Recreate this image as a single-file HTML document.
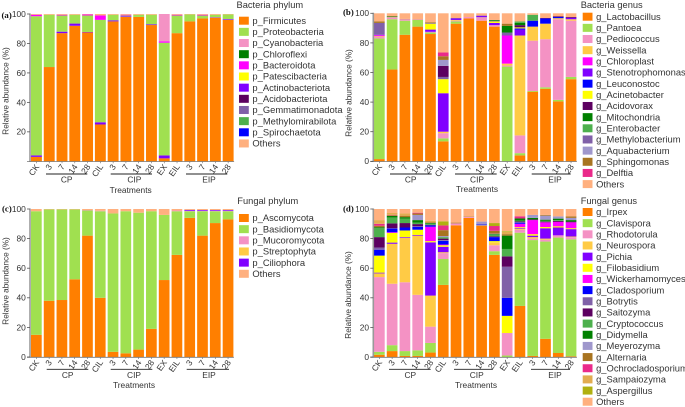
<!DOCTYPE html>
<html>
<head>
<meta charset="utf-8">
<style>
html,body{margin:0;padding:0;background:#fff;width:685px;height:407px;overflow:hidden}
svg{display:block}
text{font-family:"Liberation Sans",sans-serif;fill:#333}
.panel{font-family:"Liberation Serif",serif;font-weight:bold;font-size:8.8px;fill:#111}
</style>
</head>
<body>
<svg id="chart" width="685" height="407" viewBox="0 0 685 407" xmlns="http://www.w3.org/2000/svg"></svg>
<script>
const categories = ['CK','3','7','14','28','CIL','3','7','14','28','EX','EIL','3','7','14','28'];
const yTicksAll = [0,20,40,60,80,100];
const yTicksNoZero = [20,40,60,80,100];
const groupLabels = ['CP','CIP','EIP'];

const palette = {
  orange:'#ff7f00', green:'#a0e050', pink:'#f492c4', gold:'#ffcb45', magenta:'#ff00ff',
  purple:'#8000ff', blue:'#0000ff', yellow:'#ffff00', darkPurple:'#5c0060', darkGreen:'#008000',
  midGreen:'#4db04d', violet:'#8060a8', lav:'#9f97cc', brown:'#a87420', rose:'#ea2a8a',
  sand:'#e2ac50', olive:'#b0b010', peach:'#ffb07f'
};

// Panel (a) values
const aFirmicutes = [3,64,87,92,87.5,25,95,98,98,92.5,2,87,95,97,97.5,96];
const aActinobacteriota = [1,0,1,1.5,.3,1.5,.7,.5,0,.5,2,0,0,0,.3,.5];
const aProteobacteria = [94.5,35.5,11,6,11.2,69.5,3.8,.5,1.5,6.5,76.5,12,4.7,2,1.7,3.2];
const aBacteroidota = [1,0,.5,0,.7,3,0,.5,0,0,1,.5,0,.5,0,0];
const aCyanobacteria = [0,0,0,0,0,0,0,0,0,0,18.5,0,0,0,0,0];
const aOthers = [.5,.5,.5,.5,.3,1,.5,.5,.5,.5,0,.5,.3,.5,.5,.3];

// Panel (b) values
const bLactobacillus = [1.5,62,85.5,91,86,13.5,93,96.5,95,91,0,4,47,49,40.5,55.5];
const bPantoea = [81.5,34,9.5,4.5,1,2,1.5,0,0,0,64,1.5,.5,1,1,1.5];
const bPediococcus = [1,1,1,.3,.5,3.5,.5,1,2,1,.7,12,34,32.5,54.5,38];
const bWeissella = [.5,.3,0,0,0,1,.5,0,.3,0,1.3,67.5,9.5,10.5,.7,1];
const bChloroplast = [.7,0,0,0,0,0,0,0,0,0,19,0,0,0,0,0];
const bStenotrophomonas = [.3,0,0,0,1.5,26,1,0,1,1.5,0,4,0,0,0,1];
const bLeuconostoc = [0,0,0,0,0,0,0,0,0,0,0,.8,4,3.5,.8,0];
const bAcinetobacter = [0,0,0,0,4,9.5,0,0,0,1,0,.7,0,0,0,0];
const bMethylobacterium = [8,.2,0,0,.5,1.5,.3,0,.2,.5,2,0,0,0,0,0];
const bAcidovorax = [0,0,0,0,0,7.5,0,0,0,0,0,1.5,0,.3,.5,.5];
const bMitochondria = [0,.3,0,0,0,0,0,0,0,.5,4.5,1.5,0,0,0,0];
const bEnterobacter = [0,0,0,0,0,0,0,0,0,0,0,1,4,0,0,0];
const bAquabacterium = [0,0,0,0,0,4,0,0,0,0,0,0,0,0,0,0];
const bSphingomonas = [1,.3,.2,.2,.5,2.5,0,0,0,0,1.5,0,0,0,0,0];
const bDelftia = [0,0,0,0,0,2.5,0,0,0,0,0,0,0,0,0,0];
const bOthers = [5.5,1.9,3.8,4,6,26.5,3.2,2.5,1.5,4.5,7,5.5,1,3.2,2,2.5];

// Panel (c) values
const cAscomycota = [15,38,38.5,52.5,82,40,3.5,2.5,5,19,52,69,94,82,90.5,93];
const cBasidiomycota = [83.5,61.7,61.2,47.2,17,58.5,93.5,96,92.5,79.5,44,29.5,4.5,16.5,8,5.5];
const cMucoromycota = [0,0,0,0,.3,.3,0,0,0,0,0,.5,.3,.3,.3,.3];
const cCiliophora = [0,0,0,0,0,0,0,0,0,0,0,0,.6,.5,.5,.5];
const cOthers = [1.5,.3,.3,.3,.7,1.2,3,1.5,2.5,1.5,4,1,.6,.7,.7,.7];

// Panel (d) values
const dIrpex = [1.5,4,.7,.7,3,48.7,89,94,88.7,69,0,34.5,.7,12.3,2.7,.5];
const dClavispora = [2,4,3.3,3.8,6.5,17.5,0,0,0,2.5,1,49.5,78.3,65.7,78,79];
const dRhodotorula = [50.5,41.5,46.5,37.5,11,4,1.3,.7,0,4,15.2,2,1,1.3,1.5,1.5];
const dNeurospora = [2.5,27,30,40,21,.6,0,0,.3,2,0,.5,1,.7,0,.4];
const dPichia = [.5,.8,.5,.5,36,3.7,0,0,0,0,0,.5,1,7,5.3,5];
const dFilobasidium = [11.5,6.5,4.5,3.5,.8,1,0,0,0,.8,11.6,.7,1,.8,.8,.6];
const dWickerhamomyces = [0,.5,0,0,9.7,.5,0,0,0,0,0,2.3,9.5,3.2,3,4];
const dCladosporium = [4,2.5,2,2,1,2.5,0,0,.5,2.7,12.2,.8,0,0,0,0];
const dBotrytis = [1.5,.3,0,.3,0,.5,0,0,0,0,21,.3,0,0,0,0];
const dSaitozyma = [7,3.2,3,1.5,.3,1,0,0,0,.5,7,.5,.5,.5,.7,.5];
const dCryptococcus = [6,4,3,1,.7,1,0,0,0,1,5,.5,0,.5,.5,0];
const dDidymella = [.7,1,1,1.7,.5,0,0,0,0,.5,9,1.5,1,.8,1,1];
const dMeyerozyma = [0,0,0,3.5,0,.7,0,0,2,.3,0,0,2,2.7,1.5,1.5];
const dAlternaria = [1,.5,1,1,.5,4,.5,.3,0,2,1,0,0,.5,0,1];
const dOchrocladosporium = [1.3,.3,0,.5,0,3.2,0,0,0,3.2,0,1.5,0,0,0,0];
const dSampaiozyma = [2.5,1.2,1.5,0,1,0,0,0,0,0,1.5,0,0,0,0,0];
const dAspergillus = [0,0,0,0,0,2.8,0,0,0,2,.5,0,0,0,0,0];
const dOthers = [7.5,2.7,3,2.5,8,8.3,9.2,5,8.5,9.5,15,4.9,4,4,5,5];

const legendA = [['p_Firmicutes','orange'],['p_Proteobacteria','green'],['p_Cyanobacteria','pink'],['p_Chloroflexi','darkGreen'],['p_Bacteroidota','magenta'],['p_Patescibacteria','yellow'],['p_Actinobacteriota','purple'],['p_Acidobacteriota','darkPurple'],['p_Gemmatimonadota','violet'],['p_Methylomirabilota','midGreen'],['p_Spirochaetota','blue'],['Others','peach']];
const legendB = [['g_Lactobacillus','orange'],['g_Pantoea','green'],['g_Pediococcus','pink'],['g_Weissella','gold'],['g_Chloroplast','magenta'],['g_Stenotrophomonas','purple'],['g_Leuconostoc','blue'],['g_Acinetobacter','yellow'],['g_Acidovorax','darkPurple'],['g_Mitochondria','darkGreen'],['g_Enterobacter','midGreen'],['g_Methylobacterium','violet'],['g_Aquabacterium','lav'],['g_Sphingomonas','brown'],['g_Delftia','rose'],['Others','peach']];
const legendC = [['p_Ascomycota','orange'],['p_Basidiomycota','green'],['p_Mucoromycota','pink'],['p_Streptophyta','gold'],['p_Ciliophora','purple'],['Others','peach']];
const legendD = [['g_Irpex','orange'],['g_Clavispora','green'],['g_Rhodotorula','pink'],['g_Neurospora','gold'],['g_Pichia','purple'],['g_Filobasidium','yellow'],['g_Wickerhamomyces','magenta'],['g_Cladosporium','blue'],['g_Botrytis','violet'],['g_Saitozyma','darkPurple'],['g_Cryptococcus','midGreen'],['g_Didymella','darkGreen'],['g_Meyerozyma','lav'],['g_Alternaria','brown'],['g_Ochrocladosporium','rose'],['g_Sampaiozyma','sand'],['g_Aspergillus','olive'],['Others','peach']];

const svg = document.getElementById('chart');
const NS = 'http://www.w3.org/2000/svg';
function mk(parent, tag, attrs, txt){
  const el = document.createElementNS(NS, tag);
  for (const k in attrs) el.setAttribute(k, attrs[k]);
  if (txt !== undefined) el.textContent = txt;
  parent.appendChild(el);
  return el;
}
function slug(s){ return s.toLowerCase().replace(/[^a-z0-9]+/g,'-').replace(/^-|-$/g,''); }

function drawPanel(p){
  const g = mk(svg,'g',{});
  
  
  const yScale = v => p.y0 + (p.y100 - p.y0) * v / 100;
  const xScale = i => p.x0 + p.step * i;

  categories.forEach((cat, i) => {
    let cum = 0;
    p.stack.forEach(s => {
      const v = s[1][i];
      if (v > 0) {
        const top = yScale(cum + v), bot = yScale(cum);
        const r = mk(g,'rect',{x:xScale(i).toFixed(2), y:top.toFixed(2), width:p.barW, height:(bot-top).toFixed(2), fill:palette[s[0]]});
        
        
      }
      cum += v;
    });
    const t = mk(g,'text',{'text-anchor':'end','font-size':8.4,transform:'translate('+(xScale(i)+p.barW/2+3.2).toFixed(2)+','+(p.y0+5.5)+') rotate(-55)'},cat);
    
    
    const m = mk(g,'line',{x1:(xScale(i)+p.barW/2).toFixed(2),x2:(xScale(i)+p.barW/2).toFixed(2),y1:p.y0,y2:p.y0+2,stroke:'#666','stroke-width':0.6});
    
    
  });

  const yAxis = mk(g,'line',{x1:p.axisX,x2:p.axisX,y1:p.y100-0.5,y2:p.y0+0.5,stroke:'#999','stroke-width':1.6});
  
  
  const xAxis = mk(g,'line',{x1:p.axisX-3,x2:xScale(15)+p.barW+0.5,y1:p.y0+0.3,y2:p.y0+0.3,stroke:'#777','stroke-width':0.8});
  
  

  p.ticks.forEach(v => {
    const t = mk(g,'line',{x1:p.axisX-3,x2:p.axisX,y1:yScale(v),y2:yScale(v),stroke:'#555','stroke-width':0.8});
    
    
    const l = mk(g,'text',{x:p.axisX-4.2,y:yScale(v)+2.9,'text-anchor':'end','font-size':8.4},String(v));
    
    
  });

  const yt = mk(g,'text',{'text-anchor':'middle','font-size':8.2,transform:'translate('+p.yTitleX+','+p.yTitleY+') rotate(-90)'},'Relative abundance (%)');
  
  
  const xt = mk(g,'text',{x:p.xTitleX,y:p.xTitleY,'text-anchor':'middle','font-size':8.4},'Treatments');
  
  

  groupLabels.forEach((name, i) => {
    const b = p.groups[i];
    const ln = mk(g,'line',{x1:b[0],x2:b[1],y1:p.groupY,y2:p.groupY,stroke:'#222','stroke-width':0.9});
    
    
    const tx = mk(g,'text',{x:b[2],y:p.groupY+8.5,'text-anchor':'middle','font-size':8.4},name);
    
    
  });

  const pl = mk(g,'text',{x:p.labelX,y:p.labelY,'class':'panel'},'(' + p.id + ')');
  
  

  const tt = mk(g,'text',{x:p.legTitleX,y:p.legTitleY,'font-size':9.3},p.title);
  
  
  p.legend.forEach((e, i) => {
    const cy = p.legY + i * 11.16;
    const sw = mk(g,'rect',{x:p.legX,y:(cy-4).toFixed(2),width:9.8,height:8,fill:palette[e[1]]});
    
    
    const tl = mk(g,'text',{x:p.legX+13.4,y:(cy+3.2).toFixed(2),'font-size':9.4},e[0]);
    
    
  });
}

drawPanel({id:'a',title:'Bacteria phylum',x0:31,step:12.78,barW:10.9,axisX:30,y0:161.3,y100:14,ticks:yTicksNoZero,
  yTitleX:8.5,yTitleY:91,xTitleX:130.7,xTitleY:193,groupY:174,groups:[[46,87.3,66.7],[110.7,152,134.3],[186,227.3,209]],
  labelX:1.5,labelY:18,legTitleX:236.5,legTitleY:8,legX:239,legY:20.7,legend:legendA,
  stack:[['orange',aFirmicutes],['purple',aActinobacteriota],['green',aProteobacteria],['magenta',aBacteroidota],['pink',aCyanobacteria],['peach',aOthers]]});

drawPanel({id:'b',title:'Bacteria genus',x0:374,step:12.78,barW:10.7,axisX:373.3,y0:161.3,y100:13.3,ticks:yTicksAll,
  yTitleX:351.5,yTitleY:93,xTitleX:477,xTitleY:192,groupY:174,groups:[[390,431.7,410.7],[455,496.7,477],[531.7,570.7,555]],
  labelX:343,labelY:15,legTitleX:580.7,legTitleY:8,legX:582.7,legY:16.7,legend:legendB,
  stack:[['orange',bLactobacillus],['green',bPantoea],['pink',bPediococcus],['gold',bWeissella],['magenta',bChloroplast],['purple',bStenotrophomonas],['blue',bLeuconostoc],['yellow',bAcinetobacter],['violet',bMethylobacterium],['darkPurple',bAcidovorax],['darkGreen',bMitochondria],['midGreen',bEnterobacter],['lav',bAquabacterium],['brown',bSphingomonas],['rose',bDelftia],['peach',bOthers]]});

drawPanel({id:'c',title:'Fungal phylum',x0:31,step:12.78,barW:10.7,axisX:30,y0:357,y100:209,ticks:yTicksAll,
  yTitleX:8.5,yTitleY:281,xTitleX:134,xTitleY:388,groupY:369.3,groups:[[46.7,88.3,67.7],[110.7,152.3,134],[186.7,229,209]],
  labelX:2,labelY:211.5,legTitleX:237.3,legTitleY:204,legX:239,legY:218,legend:legendC,
  stack:[['orange',cAscomycota],['green',cBasidiomycota],['pink',cMucoromycota],['purple',cCiliophora],['peach',cOthers]]});

drawPanel({id:'d',title:'Fungal genus',x0:374,step:12.78,barW:10.7,axisX:373.3,y0:357,y100:209,ticks:yTicksAll,
  yTitleX:351,yTitleY:295,xTitleX:476,xTitleY:388,groupY:369.3,groups:[[389,430.7,410.3],[454,492.7,476.7],[531,570,555]],
  labelX:343,labelY:211.5,legTitleX:580.7,legTitleY:204,legX:582.7,legY:212,legend:legendD,
  stack:[['orange',dIrpex],['green',dClavispora],['pink',dRhodotorula],['gold',dNeurospora],['purple',dPichia],['yellow',dFilobasidium],['magenta',dWickerhamomyces],['blue',dCladosporium],['violet',dBotrytis],['darkPurple',dSaitozyma],['midGreen',dCryptococcus],['darkGreen',dDidymella],['lav',dMeyerozyma],['brown',dAlternaria],['rose',dOchrocladosporium],['sand',dSampaiozyma],['olive',dAspergillus],['peach',dOthers]]});
</script>
</body>
</html>
